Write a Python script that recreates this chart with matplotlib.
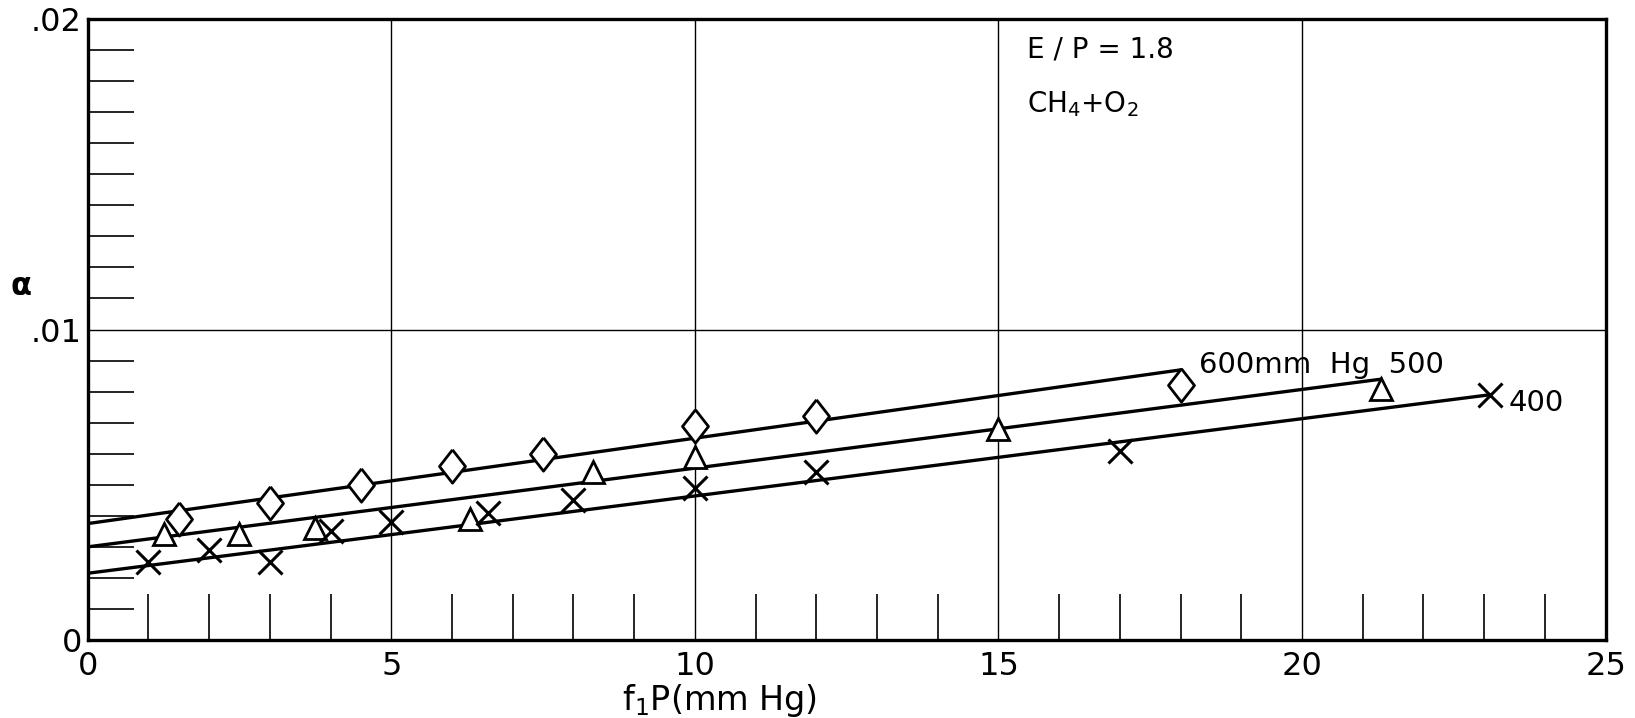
import matplotlib.pyplot as plt
from matplotlib.ticker import MultipleLocator, FixedLocator

plt.rcParams['font.family'] = ['DejaVu Sans']

x_600 = [1.5, 3.0, 4.5, 6.0, 7.5, 10.0, 12.0, 18.0]
a_600 = [0.0039, 0.0044, 0.0050, 0.0056, 0.0060, 0.0069, 0.0072, 0.0082]

x_500 = [1.25, 2.5, 3.75, 6.3, 8.33, 10.0, 15.0, 21.3]
a_500 = [0.0034, 0.0034, 0.0036, 0.0039, 0.0054, 0.0059, 0.0068, 0.0081]

x_400 = [1.0, 2.0, 3.0, 4.0, 5.0, 6.6, 8.0, 10.0, 12.0, 17.0, 23.1]
a_400 = [0.0025, 0.0029, 0.0025, 0.0035, 0.0038, 0.0041, 0.0045, 0.0049, 0.0054, 0.0061, 0.0079]

# straight fitted lines: start at x=0, end near the last point
fit_x = {"600": [0, 18.0], "500": [0, 21.3], "400": [0, 23.1]}
fit_a = {"600": [0.00375, 0.0087], "500": [0.00300, 0.0084], "400": [0.00215, 0.0079]}

fig = plt.figure(figsize=(16.35, 7.18), dpi=100)
ax = fig.add_axes([0.0536, 0.1086, 0.9284, 0.8649])

# grid lines (thin)
for gx in [5, 10, 15, 20]:
    ax.axvline(gx, color='black', lw=1.0, zorder=1)
ax.axhline(0.01, color='black', lw=1.0, zorder=1)

for key in ["600", "500", "400"]:
    ax.plot(fit_x[key], fit_a[key], color='black', lw=2.4, zorder=2)

# diamond a bit wider than matplotlib's thin diamond
diamond = [(0, 1), (0.78, 0), (0, -1), (-0.78, 0), (0, 1)]
ax.plot(x_600, a_600, linestyle='none', marker=diamond, markersize=24, mfc='white',
        mec='black', mew=2.0, zorder=3)
ax.plot(x_500, a_500, linestyle='none', marker='^', markersize=16, mfc='white',
        mec='black', mew=2.0, zorder=3)
ax.plot(x_400, a_400, linestyle='none', marker='x', markersize=17,
        color='black', mew=2.2, zorder=3)

ax.set_xlim(0, 25)
ax.set_ylim(0, 0.02)
ax.xaxis.set_major_locator(FixedLocator([0, 5, 10, 15, 20, 25]))
ax.yaxis.set_major_locator(FixedLocator([0, 0.01, 0.02]))
ax.set_xticklabels(['0', '5', '10', '15', '20', '25'])
ax.set_yticklabels(['0', '.01', '.02'])
ax.xaxis.set_minor_locator(MultipleLocator(1))
ax.yaxis.set_minor_locator(MultipleLocator(0.001))
ax.tick_params(which='major', length=0, labelsize=23, pad=8)
ax.tick_params(which='minor', direction='in', length=33, width=1.2)
ax.tick_params(axis='y', which='major', pad=4)
for s in ax.spines.values():
    s.set_linewidth(2.4)

ax.set_xlabel('f$_1$P(mm Hg)', fontsize=24, x=0.416, labelpad=0)
ax.text(-0.044, 0.569, r'$\mathbf{\alpha}$', transform=ax.transAxes,
        fontsize=22, ha='center', va='center')

ax.text(15.47, 0.01903, 'E / P = 1.8', fontsize=20, va='center')
ax.text(15.47, 0.01725, 'CH$_4$+O$_2$', fontsize=20, va='center')
ax.text(18.3, 0.00886, '600mm  Hg  500', fontsize=21, va='center')
ax.text(23.4, 0.00762, '400', fontsize=21, va='center')

plt.savefig('out.png', dpi=100)
